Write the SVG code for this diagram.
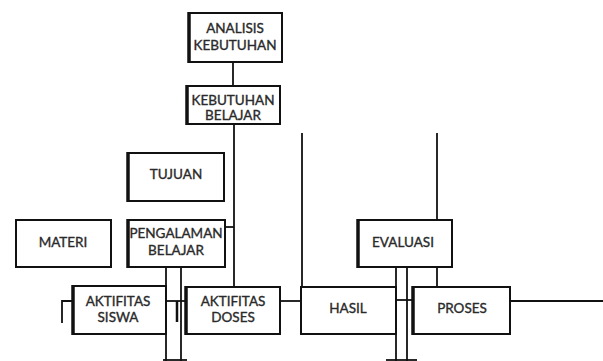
<svg xmlns="http://www.w3.org/2000/svg" width="603" height="361" viewBox="0 0 603 361">
<style>
.box{fill:#fff;stroke:#111;stroke-width:2}
.edge{stroke:#111;stroke-width:3.5}
.ln{stroke:#111;stroke-width:1.8;fill:none}
text{font-family:Lato,"Liberation Sans",Arial,sans-serif;font-size:13.5px;fill:#2a2a2a;stroke:#2a2a2a;stroke-width:0.35;text-anchor:middle}
</style>
<rect width="603" height="361" fill="#fff"/>
<g id="connectors">
<line class="ln" x1="233" y1="62" x2="233" y2="86"/>
<line class="ln" x1="234" y1="124" x2="234" y2="287"/>
<line class="ln" x1="225" y1="227" x2="234" y2="227"/>
<line class="ln" x1="166" y1="267" x2="166" y2="361"/>
<line class="ln" x1="181" y1="267" x2="181" y2="361"/>
<line class="ln" x1="163" y1="360" x2="187" y2="360"/>
<polyline class="ln" points="73,301 62,301 62,323"/>
<line class="ln" x1="166" y1="301" x2="186" y2="301"/>
<line class="ln" x1="177" y1="301" x2="177" y2="322" style="stroke-width:2.5"/>
<line class="ln" x1="280" y1="301" x2="301" y2="301"/>
<line class="ln" x1="302" y1="133" x2="302" y2="287"/>
<line class="ln" x1="437" y1="133" x2="437" y2="220"/>
<line class="ln" x1="437" y1="267" x2="437" y2="287"/>
<line class="ln" x1="396" y1="267" x2="396" y2="361"/>
<line class="ln" x1="407" y1="267" x2="407" y2="361"/>
<line class="ln" x1="386" y1="360" x2="417" y2="360"/>
<line class="ln" x1="396" y1="300" x2="413" y2="300"/>
<line class="ln" x1="510" y1="301" x2="603" y2="301"/>
</g>
<g id="analisis">
<rect class="box" x="189" y="13" width="93" height="49"/>
<line class="edge" x1="189" y1="12" x2="189" y2="63"/>
<text x="235" y="33">ANALISIS</text>
<text x="235" y="50">KEBUTUHAN</text>
</g>
<g id="kebutuhan-belajar">
<rect class="box" x="187" y="86" width="93" height="38"/>
<line class="edge" x1="187" y1="85" x2="187" y2="125"/>
<text x="233" y="105">KEBUTUHAN</text>
<text x="233" y="120">BELAJAR</text>
</g>
<g id="tujuan">
<rect class="box" x="128" y="153" width="96" height="48"/>
<line class="edge" x1="128" y1="152" x2="128" y2="202"/>
<text x="176" y="179">TUJUAN</text>
</g>
<g id="materi">
<rect class="box" x="16" y="220" width="95" height="47"/>
<text x="63" y="247">MATERI</text>
</g>
<g id="pengalaman">
<rect class="box" x="128" y="220" width="97" height="47"/>
<line class="edge" x1="128" y1="219" x2="128" y2="268"/>
<text x="176" y="238">PENGALAMAN</text>
<text x="176" y="255">BELAJAR</text>
</g>
<g id="aktifitas-siswa">
<rect class="box" x="73" y="286" width="93" height="48"/>
<line class="edge" x1="73" y1="285" x2="73" y2="335"/>
<text x="118" y="306">AKTIFITAS</text>
<text x="118" y="322">SISWA</text>
</g>
<g id="aktifitas-doses">
<rect class="box" x="186" y="287" width="94" height="47"/>
<line class="edge" x1="186" y1="286" x2="186" y2="335"/>
<text x="233" y="306">AKTIFITAS</text>
<text x="233" y="322">DOSES</text>
</g>
<g id="hasil">
<rect class="box" x="301" y="287" width="95" height="47"/>
<text x="348" y="313">HASIL</text>
</g>
<g id="evaluasi">
<rect class="box" x="358" y="220" width="94" height="47"/>
<line class="edge" x1="358" y1="219" x2="358" y2="268"/>
<text x="403" y="247">EVALUASI</text>
</g>
<g id="proses">
<rect class="box" x="413" y="287" width="97" height="47"/>
<line class="edge" x1="413" y1="286" x2="413" y2="335"/>
<text x="462" y="313">PROSES</text>
</g>
</svg>
